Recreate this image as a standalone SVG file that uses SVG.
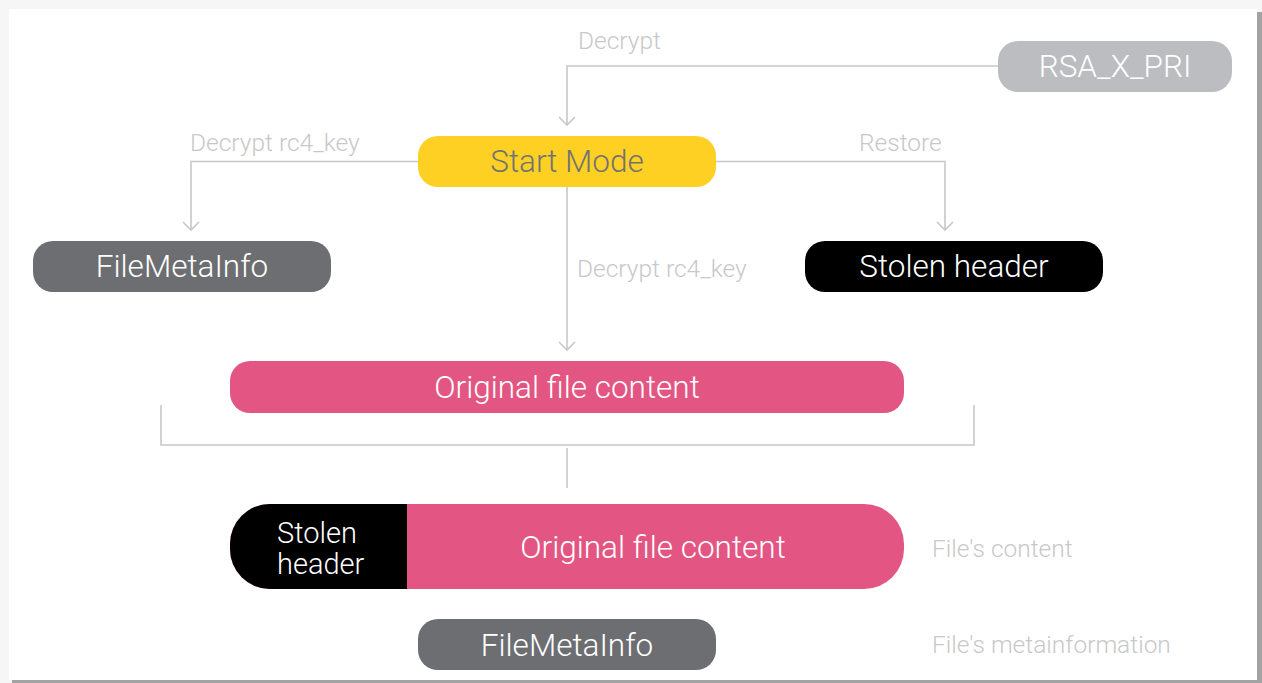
<svg xmlns="http://www.w3.org/2000/svg" width="1262" height="683" viewBox="0 0 1262 683">
<style>
.node{font-family:Roboto,"Liberation Sans",sans-serif;font-weight:300;font-size:31.5px;fill:#ffffff;text-anchor:middle}
.lbl{font-family:Roboto,"Liberation Sans",sans-serif;font-weight:300;font-size:24.5px;fill:#c8c8c9}
.ln{fill:none;stroke:#c8c8c8;stroke-width:1.6}
</style>
<defs>
<marker id="arr" viewBox="0 0 20 20" refX="18" refY="10" markerWidth="20" markerHeight="20" markerUnits="userSpaceOnUse" orient="auto">
<path d="M10,2 L18,10 L10,18" fill="none" stroke="#c8c8c8" stroke-width="1.6"/>
</marker>
</defs>
<rect x="0" y="0" width="1262" height="683" fill="#f6f6f6"/>
<rect x="1256" y="12" width="6" height="671" fill="#a3a3a3"/>
<rect x="12" y="679" width="1250" height="4" fill="#a3a3a3"/>
<rect x="9" y="9" width="1248" height="671" fill="#ffffff"/>
<g id="connectors">
<path class="ln" d="M998,66 H567 V125" marker-end="url(#arr)"/>
<path class="ln" d="M418,161.5 H191 V230" marker-end="url(#arr)"/>
<path class="ln" d="M716,161.5 H945 V230" marker-end="url(#arr)"/>
<path class="ln" d="M567,187 V350" marker-end="url(#arr)"/>
<path class="ln" d="M161,405 V445 H974 V405"/>
<path class="ln" d="M567,448 V488"/>
<text class="lbl" x="578" y="49">Decrypt</text>
<text class="lbl" x="190" y="151">Decrypt rc4_key</text>
<text class="lbl" x="859" y="151">Restore</text>
<text class="lbl" x="577" y="277">Decrypt rc4_key</text>
</g>
<g id="rsa">
<rect x="998" y="41" width="234" height="51" rx="20" fill="#bcbdc0"/>
<text class="node" x="1115" y="77">RSA_X_PRI</text>
</g>
<g id="start">
<rect x="418" y="136" width="298" height="51" rx="20" fill="#fdd023"/>
<text class="node" x="567" y="172" style="fill:#737373">Start Mode</text>
</g>
<g id="filemeta1">
<rect x="33" y="241" width="298" height="51" rx="20" fill="#6d6e71"/>
<text class="node" x="182" y="277">FileMetaInfo</text>
</g>
<g id="stolen1">
<rect x="805" y="241" width="298" height="51" rx="20" fill="#000000"/>
<text class="node" x="954" y="277">Stolen header</text>
</g>
<g id="original1">
<rect x="230" y="361" width="674" height="52" rx="20" fill="#e35683"/>
<text class="node" x="567" y="398">Original file content</text>
</g>
<g id="combined">
<rect x="230" y="504" width="674" height="85" rx="40" fill="#e35683"/>
<path d="M407,504 H270 A40,40 0 0 0 230,544 V549 A40,40 0 0 0 270,589 H407 Z" fill="#000000"/>
<text class="node" x="277" y="543" style="text-anchor:start;font-size:29px">Stolen</text>
<text class="node" x="277" y="574" style="text-anchor:start;font-size:29px">header</text>
<text class="node" x="653" y="558">Original file content</text>
</g>
<g id="filemeta2">
<rect x="418" y="619" width="298" height="51" rx="20" fill="#6d6e71"/>
<text class="node" x="567" y="656">FileMetaInfo</text>
</g>
<g id="legend">
<text class="lbl" x="932" y="557">File's content</text>
<text class="lbl" x="932" y="653">File's metainformation</text>
</g>
</svg>
